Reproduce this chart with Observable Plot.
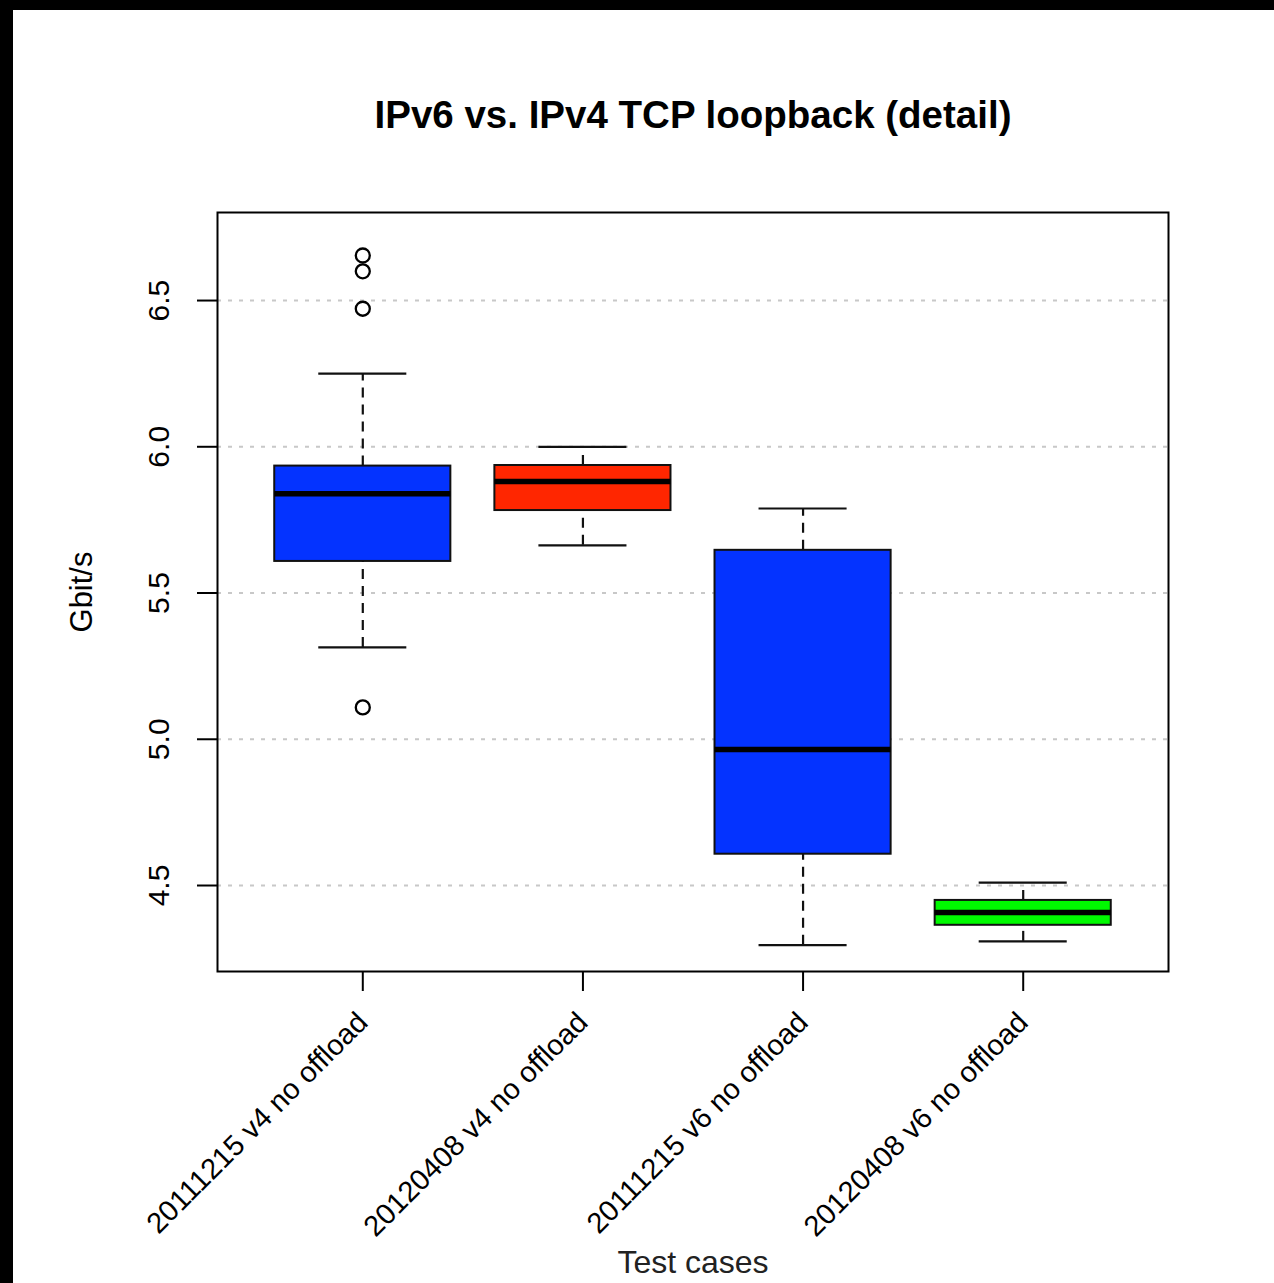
<!DOCTYPE html>
<html>
<head>
<meta charset="utf-8">
<script src="https://cdn.jsdelivr.net/npm/d3@7"></script>
<script src="https://cdn.jsdelivr.net/npm/@observablehq/plot@0.6"></script>
<style>
  html, body { margin: 0; padding: 0; background: #000; }
  #wrap { position: absolute; left: 13px; top: 10px; width: 1261px; height: 1273px; background: #fff; }
  svg { display: block; }
</style>
</head>
<body>
<div id="wrap"></div>
<script>
const title = "IPv6 vs. IPv4 TCP loopback (detail)";
const xTitle = "Test cases";
const yTitle = "Gbit/s";
const categories = ["20111215 v4 no offload", "20120408 v4 no offload", "20111215 v6 no offload", "20120408 v6 no offload"];
const boxFill = ["#0433ff", "#ff2600", "#0433ff", "#00f900"];
const lowerWhisker = [5.314, 5.663, 4.296, 4.309];
const q1 = [5.608, 5.782, 4.607, 4.364];
const median = [5.839, 5.881, 4.965, 4.408];
const q3 = [5.934, 5.936, 5.646, 4.449];
const upperWhisker = [6.250, 6.000, 5.789, 4.510];
const outlierGroup = [1, 1, 1, 1];
const outlierValue = [6.654, 6.600, 6.472, 5.109];
const yTicks = [4.5, 5.0, 5.5, 6.0, 6.5];

const boxes = categories.map((c, i) => ({
  i: i + 1, name: c, fill: boxFill[i],
  lo: lowerWhisker[i], q1: q1[i], med: median[i], q3: q3[i], hi: upperWhisker[i]
}));
const outliers = outlierValue.map((v, k) => ({i: outlierGroup[k], v}));

const chart = Plot.plot({
  width: 1261,
  height: 1273,
  marginLeft: 204,
  marginRight: 106,
  marginTop: 202,
  marginBottom: 312,
  style: {fontFamily: "'Liberation Sans', Arial, Helvetica, sans-serif", color: "#000", background: "#fff"},
  x: {type: "linear", domain: [0.34, 4.66]},
  y: {domain: [4.206, 6.801]},
  marks: [
    Plot.gridY(yTicks, {stroke: "#c8c8c8", strokeOpacity: 1, strokeWidth: 2, strokeDasharray: "4,7"}),
    Plot.ruleX(boxes, {x: "i", y1: "q3", y2: "hi", stroke: "#111", strokeWidth: 2.2, strokeDasharray: "10,7"}),
    Plot.ruleX(boxes, {x: "i", y1: "lo", y2: "q1", stroke: "#111", strokeWidth: 2.2, strokeDasharray: "10,7"}),
    Plot.ruleY(boxes, {y: "hi", x1: d => d.i - 0.2, x2: d => d.i + 0.2, stroke: "#111", strokeWidth: 2.2}),
    Plot.ruleY(boxes, {y: "lo", x1: d => d.i - 0.2, x2: d => d.i + 0.2, stroke: "#111", strokeWidth: 2.2}),
    Plot.rect(boxes, {x1: d => d.i - 0.4, x2: d => d.i + 0.4, y1: "q1", y2: "q3", fill: "fill", stroke: "#111", strokeWidth: 2}),
    Plot.ruleY(boxes, {y: "med", x1: d => d.i - 0.4, x2: d => d.i + 0.4, stroke: "#000", strokeWidth: 5.5}),
    Plot.dot(outliers, {x: "i", y: "v", r: 7, stroke: "#000", strokeWidth: 2.3, fill: "none"}),
    Plot.frame({stroke: "#000", strokeWidth: 2}),
    Plot.axisY(yTicks, {tickFormat: d3.format(".1f"), tickSize: 20, tickPadding: 29, tickRotate: -90, fontSize: 30, label: null, strokeWidth: 2}),
    Plot.axisX([1, 2, 3, 4], {tickFormat: d => categories[d - 1], tickSize: 20, tickPadding: 26, tickRotate: -45, fontSize: 29, label: null, strokeWidth: 2}),
    Plot.text([title], {frameAnchor: "top", dy: -85, lineAnchor: "bottom", fontSize: 38.5, fontWeight: "bold", fill: "#000"}),
    Plot.text([xTitle], {frameAnchor: "bottom", dy: 301, lineAnchor: "bottom", fontSize: 32, fill: "#222"}),
    Plot.text([yTitle], {frameAnchor: "left", dx: -135, rotate: -90, textAnchor: "middle", lineAnchor: "middle", fontSize: 31, fill: "#000"})
  ]
});
document.getElementById("wrap").appendChild(chart);
</script>
</body>
</html>
